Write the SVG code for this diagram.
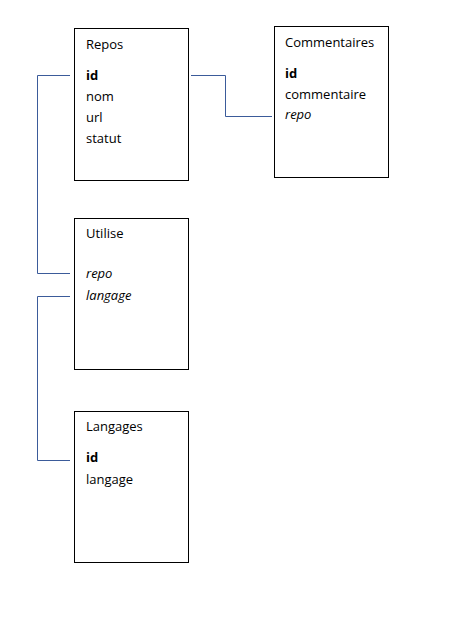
<svg xmlns="http://www.w3.org/2000/svg" width="460" height="634" viewBox="0 0 460 634">
<style>
.box{fill:#fff;stroke:#000;stroke-width:1}
.t{font-family:"Open Sans","Noto Sans",sans-serif;font-size:13px;fill:#000}
.b{font-weight:bold}
.i{font-style:italic}
.c{fill:none;stroke:#3b5b9a;stroke-width:1}
</style>
<rect width="460" height="634" fill="#fff"/>
<g id="connectors">
<polyline class="c" points="70,75.5 37.5,75.5 37.5,273.5 70,273.5"/>
<polyline class="c" points="191,75.5 225.5,75.5 225.5,116.5 272,116.5"/>
<polyline class="c" points="70,296.5 37.5,296.5 37.5,460.5 70,460.5"/>
</g>
<g id="repos">
<rect class="box" x="74.5" y="28.5" width="114" height="152"/>
<text class="t" x="86" y="49">Repos</text>
<text class="t b" x="86" y="80">id</text>
<text class="t" x="86" y="101">nom</text>
<text class="t" x="86" y="122">url</text>
<text class="t" x="86" y="143">statut</text>
</g>
<g id="commentaires">
<rect class="box" x="274.5" y="26.5" width="114" height="151"/>
<text class="t" x="285" y="47">Commentaires</text>
<text class="t b" x="285" y="78">id</text>
<text class="t" x="285" y="99">commentaire</text>
<text class="t i" x="285" y="119">repo</text>
</g>
<g id="utilise">
<rect class="box" x="74.5" y="218.5" width="114" height="151"/>
<text class="t" x="86" y="238">Utilise</text>
<text class="t i" x="86" y="278">repo</text>
<text class="t i" x="86" y="300">langage</text>
</g>
<g id="langages">
<rect class="box" x="74.5" y="411.5" width="114" height="151"/>
<text class="t" x="86" y="431">Langages</text>
<text class="t b" x="86" y="462">id</text>
<text class="t" x="86" y="484">langage</text>
</g>
</svg>
